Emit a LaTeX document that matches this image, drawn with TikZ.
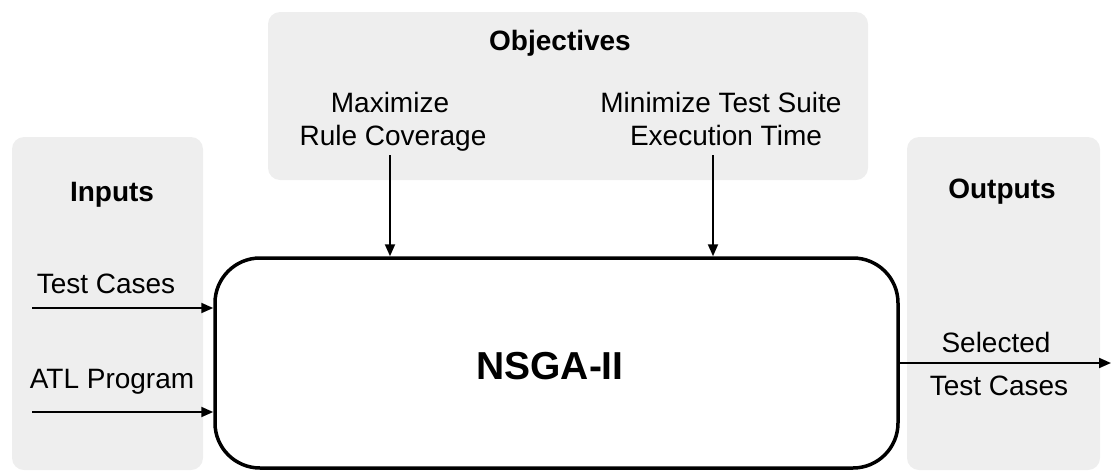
\documentclass[tikz,border=0pt]{standalone}
\usepackage{fontspec}
\setmainfont{Liberation Sans}
\usetikzlibrary{arrows.meta}
\definecolor{panelgray}{HTML}{EEEEEE}
\begin{document}
\begin{tikzpicture}[x=1pt,y=-1pt,
  panel/.style={fill=panelgray, rounded corners=12pt, inner sep=0pt},
  lbl/.style={font=\fontsize{28}{33}\selectfont, align=center, inner sep=0pt, anchor=base},
  head/.style={font=\fontsize{28}{33}\selectfont\bfseries, inner sep=0pt, anchor=base},
  flow/.style={line width=2pt, -{Triangle[length=12pt,width=10pt]}},
]
\useasboundingbox (0,0) rectangle (1112,472);

% grey panels
\node (objpanel) [panel, minimum width=600pt, minimum height=168pt] at (568,96) {};
\node (inpanel)  [panel, minimum width=191pt, minimum height=333pt] at (107.5,303.5) {};
\node (outpanel) [panel, minimum width=193pt, minimum height=333pt] at (1003.5,303.5) {};

% central process
\node (core) [draw, line width=3.5pt, rounded corners=45pt,
  minimum width=683pt, minimum height=210pt] at (556.5,363) {};
\node (coretext) [inner sep=0pt, font=\fontsize{39}{44}\selectfont\bfseries]
  at (550,366) {NSGA-II};

% headings
\node (objhead) [head] at (560,50) {Objectives};
\node (inhead)  [head] at (112,201) {Inputs};
\node (outhead) [head] at (1002,198) {Outputs};

% objective labels
\node (obj1a) [lbl] at (390,112) {Maximize};
\node (obj1b) [lbl] at (393,145) {Rule Coverage};
\node (obj2a) [lbl] at (721,112) {Minimize Test Suite};
\node (obj2b) [lbl] at (726,145) {Execution Time};

% input labels
\node (in1) [lbl] at (106,293) {Test Cases};
\node (in2) [lbl] at (112,388) {ATL Program};

% output labels
\node (out1a) [lbl] at (996,352) {Selected};
\node (out1b) [lbl] at (999,395) {Test Cases};

% arrow end points
\coordinate (o1s) at (390,155);
\coordinate (o2s) at (713,155);
\coordinate (i1s) at (32,308);
\coordinate (i2s) at (32,412);
\coordinate (oute) at (1111,363);

\draw[flow] (o1s) -- (o1s |- core.north);
\draw[flow] (o2s) -- (o2s |- core.north);
\draw[flow] (i1s) -- (i1s -| core.west);
\draw[flow] (i2s) -- (i2s -| core.west);
\draw[flow] (core.east |- oute) -- (oute);
\end{tikzpicture}
\end{document}
